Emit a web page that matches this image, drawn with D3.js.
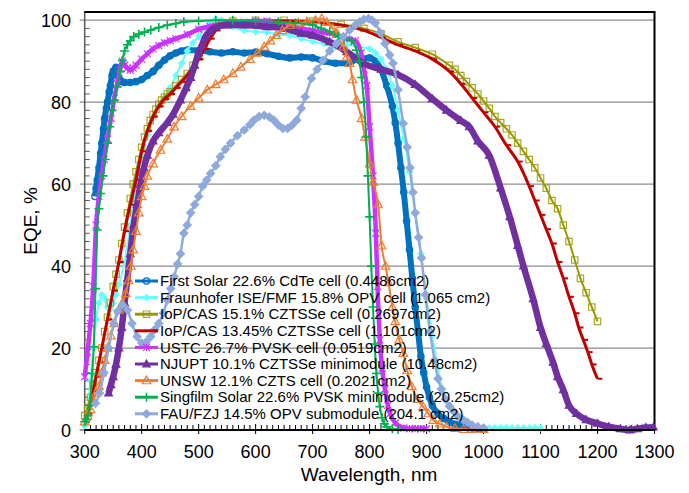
<!DOCTYPE html>
<html><head><meta charset="utf-8">
<script src="https://cdn.jsdelivr.net/npm/d3@7"></script>
<style>body{margin:0;background:#fff}svg{display:block}text{font-family:Arial,"Liberation Sans",sans-serif;fill:#000}</style>
</head><body><svg id="c" width="689" height="493"></svg>
<script>
// ---- data ----
const seriesNames = [
  "First Solar 22.6% CdTe cell (0.4486cm2)",
  "Fraunhofer ISE/FMF 15.8% OPV cell (1.065 cm2)",
  "IoP/CAS 15.1% CZTSSe cell (0.2697cm2)",
  "IoP/CAS 13.45% CZTSSe cell (1.101cm2)",
  "USTC 26.7% PVSK cell (0.0519cm2)",
  "NJUPT 10.1% CZTSSe minimodule (10.48cm2)",
  "UNSW 12.1% CZTS cell (0.2021cm2)",
  "Singfilm Solar 22.6% PVSK minimodule (20.25cm2)",
  "FAU/FZJ 14.5% OPV submodule (204.1 cm2)"
];
const xTicks = [300,400,500,600,700,800,900,1000,1100,1200,1300];
const yTicks = [0,20,40,60,80,100];

const firstSolar = [[318,57],[320,59],[322,61],[325,64],[328,67.5],[330,70],[333,73.5],[335,76],[338,78.5],[340,80],[343,82.5],[345,84],[348,86.5],[350,87.5],[355,88.5],[360,86],[365,85],[370,84.8],[380,84.8],[390,85],[400,85.5],[410,86.5],[420,87.5],[430,89],[440,90.3],[450,91.3],[460,92],[470,92.5],[480,92.7],[500,92.6],[520,92.3],[540,92],[560,92.3],[580,92],[600,92.2],[620,91.8],[640,91.2],[660,90.8],[680,91],[700,90.8],[720,90],[740,89.5],[760,89.5],[780,90.5],[800,90.8],[810,90],[820,88],[830,84],[840,79],[845,75],[850,70],[855,64],[860,58],[865,51],[870,44],[875,37],[880,30],[885,24],[890,18],[895,14],[900,10.5],[905,8],[910,6],[920,4],[930,2.8],[940,2],[950,1.4],[960,1],[970,0.7],[980,0.5],[990,0.3],[1000,0.2]];
const fraunhofer = [[300,1],[305,5],[310,12],[315,20],[320,27],[325,31],[330,33],[335,32],[340,30],[345,29.5],[350,31],[355,33],[360,35.5],[370,41],[380,50],[390,60],[400,67],[410,72],[420,76],[430,79],[440,81],[450,83.5],[460,86.5],[470,89.5],[480,92.5],[490,94.5],[500,96],[510,98],[520,99.5],[530,100.3],[540,100],[550,99.3],[560,98.4],[580,97.5],[600,97.2],[620,97],[640,96.5],[660,96.3],[680,95.5],[700,94.8],[720,94.3],[740,93.5],[760,94],[780,93.5],[800,93],[810,92],[820,90.5],[830,88],[840,84],[850,78],[860,71],[870,63],[880,53],[890,43],[900,32],[910,23],[920,15],[930,9],[940,6],[950,4],[960,2.8],[970,2],[980,1.2],[990,0.8],[1000,0.5],[1010,0.5],[1020,0.5],[1030,0.5],[1040,0.5],[1050,0.5],[1060,0.5],[1070,0.5],[1080,0.5],[1090,0.5],[1100,0.5]];
const iopCas151 = [[300,3.5],[305,5.5],[310,8],[315,11],[320,14],[325,17],[330,20],[335,24],[340,27.5],[345,31],[350,35],[355,38],[360,41.5],[365,45.5],[370,49.5],[375,53],[380,56.5],[385,60],[390,63],[395,66],[400,69],[405,71.5],[410,73.5],[415,75.5],[420,77],[425,78.3],[430,79.5],[435,80.5],[440,81.2],[445,82],[450,82.5],[460,84],[470,85.5],[480,87],[490,89],[500,91],[510,94],[520,97],[530,98.5],[540,99.3],[560,99.8],[600,100],[650,100],[700,99.8],[750,99],[790,98],[820,96.7],[850,94.7],[880,93.3],[910,91.7],[940,89],[950,88],[960,86.5],[970,85],[980,83.5],[990,82],[1000,80.3],[1010,78.5],[1020,76.5],[1030,75],[1040,73.5],[1050,72],[1060,70],[1070,68],[1080,66],[1090,64],[1100,61.5],[1110,59],[1120,56],[1130,54],[1140,50],[1150,46],[1160,41.5],[1170,37],[1180,33.5],[1190,30],[1200,26.5]];
const iopCas1345 = [[300,2],[305,4],[310,6.5],[315,9.5],[320,13],[325,16.5],[330,20],[340,27],[350,34],[360,41],[370,48.5],[380,55],[390,61],[400,68],[410,73],[420,76.5],[430,79],[440,80.8],[450,82],[460,83.5],[470,85],[480,86.5],[490,88.5],[500,90.5],[510,93],[520,95.5],[530,97.5],[540,98.5],[560,99.3],[600,99.8],[650,99.8],[700,99.5],[750,98.8],[790,97.5],[820,95.8],[850,94],[880,92.5],[910,90.5],[940,87.5],[960,84.5],[980,81],[1000,77.5],[1020,74],[1040,69.5],[1060,65.5],[1080,59.5],[1090,56],[1100,52.5],[1110,49],[1120,45.5],[1130,41],[1140,37],[1150,32.5],[1160,28.5],[1167,25],[1175,22],[1183,19],[1190,16],[1200,12.5]];
const ustc = [[300,13],[305,19],[310,26],[315,35],[320,50],[325,57],[330,62],[334,66],[340,71],[346,76],[352,81],[357,84.5],[362,88],[366,90],[370,89],[375,88.3],[380,87.8],[385,88.3],[390,89],[400,90.5],[410,91.8],[420,93],[430,93.8],[440,94.5],[450,95],[460,95.5],[480,96.5],[500,97.8],[520,98.5],[540,99],[560,99.3],[580,99.5],[600,99.8],[620,99.8],[640,99],[660,98.5],[680,98],[700,97.5],[720,97],[740,96.5],[760,95.5],[775,95],[785,92],[790,88],[795,84],[800,74],[806,62],[811,48],[814,35],[818,22],[822,15],[827,10],[832,6],[836,4],[845,1.7],[860,0.5],[870,0.3],[880,0.3],[890,0.3],[900,0.3]];
const njupt = [[342,9],[346,11],[350,13],[355,16],[360,20],[365,25],[370,31],[375,37],[380,43],[386,50],[392,55],[398,60],[404,64],[410,67],[420,70.5],[430,72.5],[445,75],[455,77],[468,80.5],[478,83.5],[486,86],[493,89],[500,92],[506,94],[512,96],[520,97.3],[530,98.3],[550,98.8],[580,98.8],[620,98.4],[650,98],[680,96.8],[700,96.3],[730,94.7],[760,92.3],[790,89.4],[820,88],[850,86.7],[880,84.3],[910,80.8],[935,78],[960,75.5],[975,74],[990,70.5],[1010,67],[1030,59],[1046,52],[1060,45],[1070,40],[1087,32],[1100,25],[1110,21],[1122,16.5],[1130,13],[1140,9.8],[1150,6],[1163,4],[1180,2.5],[1200,1.6],[1220,0.8],[1240,0.3],[1257,0],[1270,0.3],[1285,0.6],[1298,0.7]];
const unsw = [[300,2],[305,3.5],[310,5],[315,7],[320,9],[325,10.6],[330,14],[335,17],[340,20],[346,23],[352,26],[360,29.3],[366,31],[372,33.3],[377,36.5],[381,40],[385,44],[390,48.5],[395,53],[400,57],[405,59.5],[410,62],[420,65],[433,68.3],[445,71],[457,74],[470,76.5],[486,79],[500,81],[515,83],[530,84.3],[544,85.5],[560,87],[574,88.6],[590,90.5],[603,92],[615,93.5],[626,95],[636,96.3],[647,97.5],[660,98.8],[675,99.3],[690,99.6],[705,100],[716,100.4],[725,99.5],[735,98],[742,97],[748,95],[754,93.5],[760,91],[765,89.5],[770,85.5],[777,80.5],[786,76],[792,71.5],[800,65],[806,60.5],[815,55],[821,45],[828,40],[833,36],[840,30],[845,26.5],[852,22],[859,18.7],[866,14.5],[874,10.6],[884,7.5],[894,5.7],[903,4],[912,2.4],[923,1.5],[935,0.8],[950,0.4],[965,0.2],[980,0.2],[1000,0.2]];
const singfilm = [[300,2],[303,2.5],[306,3.5],[309,6],[313,13.8],[316,20.3],[319,34.5],[322,48.8],[325,54],[328,57.7],[332,62],[336,66],[340,70],[344,74],[348,78],[352,80.5],[357,83.7],[362,87.5],[366,90.2],[370,92.5],[375,94],[380,95],[386,96],[395,96.6],[405,97.1],[416,97.6],[430,98.2],[445,98.8],[460,99.2],[474,99.6],[500,99.8],[530,100],[560,100],[600,99.8],[640,99.6],[670,99.3],[700,98.8],[715,98],[730,97.2],[745,96],[755,95.5],[768,95],[777,92.7],[782,90],[786,86],[790,80],[794,71.5],[797,62],[800,52],[803,40],[806,30],[809,21],[812,13.8],[815,9],[818,5.7],[822,3],[826,1.5],[830,0.8],[840,0.3],[850,0.2]];
const fauFzj = [[319,6.5],[326,9],[334,14],[342,20],[351,26],[358,29],[366,30.5],[375,29.3],[383,26],[392,22.8],[400,21.2],[408,21.5],[416,22.8],[423,24.5],[430,26],[438,28.5],[445,31.7],[451,34.5],[457,37.4],[463,40.5],[468,43],[474,48],[480,50],[486,53],[493,55],[500,57],[507,59.5],[514,61],[521,62.6],[530,64.5],[538,66.7],[547,68.5],[556,70],[568,71.8],[580,73.2],[590,74.5],[597,75.6],[606,76.5],[615,76.8],[624,76.4],[632,75.6],[640,74.4],[648,73.6],[656,73.6],[664,74.4],[672,75.6],[680,78.5],[687,81.3],[698,85.8],[708,88],[718,90.2],[730,92.5],[742,94.3],[754,96],[765,97.6],[775,98.8],[783,99.6],[790,100.2],[798,100.4],[804,100],[810,99.3],[818,97],[827,94.3],[835,91.5],[841,89.5],[850,83],[859,74.8],[866,69],[871,64],[876,58],[880,53],[886,47],[891,42],[898,33],[906,24],[914,17],[920,12.5],[926,10],[933,7.5],[940,5.8],[948,4.5],[956,3.2],[964,2.5],[972,1.8],[980,1.2],[990,0.8],[1000,0.5]];

const seriesData = [firstSolar, fraunhofer, iopCas151, iopCas1345, ustc, njupt, unsw, singfilm, fauFzj];
const seriesColors = ["#0070C0","#66FFFF","#999900","#C00000","#CC33FF","#7030A0","#ED7D31","#00B050","#8EA9DB"];
const seriesMarkers = ["circle","smalldiamond","square","dash","asterisk","triangleFilled","triangleOpen","plus","diamond"];
const lineWidths = [6,2,2,3,4.5,6.5,2,2,2.5];

// ---- layout ----
const svg = d3.select("#c");
const x = d3.scaleLinear().domain([300,1300]).range([84.7,654.5]);
const y = d3.scaleLinear().domain([0,102]).range([430,12]);

// gridlines
svg.append("g").selectAll("line").data(yTicks.filter(d=>d>0)).join("line")
  .attr("x1",x(300)-5).attr("x2",x(1300)).attr("y1",d=>y(d)).attr("y2",d=>y(d))
  .attr("stroke","#8c8c8c").attr("stroke-width",1.2);

// minor ticks
const yMinor = d3.range(2,102,2).filter(d=>d%20!==0);
svg.append("g").selectAll("line").data(yMinor).join("line")
  .attr("x1",x(300)).attr("x2",x(300)+5).attr("y1",d=>y(d)).attr("y2",d=>y(d))
  .attr("stroke","#595959").attr("stroke-width",1);
const xMinor = d3.range(310,1300,10).filter(d=>d%100!==0);
svg.append("g").selectAll("line").data(xMinor).join("line")
  .attr("x1",d=>x(d)).attr("x2",d=>x(d)).attr("y1",y(0)).attr("y2",y(0)-5)
  .attr("stroke","#000").attr("stroke-width",1);
svg.append("g").selectAll("line").data(xTicks).join("line")
  .attr("x1",d=>x(d)).attr("x2",d=>x(d)).attr("y1",y(0)+4).attr("y2",y(0)-6)
  .attr("stroke","#000").attr("stroke-width",1);

// frame
svg.append("line").attr("x1",x(300)).attr("x2",x(300)).attr("y1",y(102)).attr("y2",y(0)).attr("stroke","#595959").attr("stroke-width",1.5);
svg.append("line").attr("x1",x(300)-0.5).attr("x2",x(1300)+1).attr("y1",y(102)).attr("y2",y(102)).attr("stroke","#000").attr("stroke-width",2);
svg.append("line").attr("x1",x(1300)).attr("x2",x(1300)).attr("y1",y(102)).attr("y2",y(0)).attr("stroke","#000").attr("stroke-width",2);

// markers
function markerPath(type, s){
  const p = d3.path();
  switch(type){
    case "circle": p.moveTo(s,0); p.arc(0,0,s,0,2*Math.PI); break;
    case "square": p.rect(-s,-s,2*s,2*s); break;
    case "smalldiamond":
    case "diamond": p.moveTo(0,-s); p.lineTo(s,0); p.lineTo(0,s); p.lineTo(-s,0); p.closePath(); break;
    case "triangleFilled":
    case "triangleOpen": p.moveTo(0,-s); p.lineTo(s*0.95,s*0.7); p.lineTo(-s*0.95,s*0.7); p.closePath(); break;
    case "plus": p.moveTo(-s,0); p.lineTo(s,0); p.moveTo(0,-s); p.lineTo(0,s); break;
    case "asterisk": p.moveTo(-s,-s); p.lineTo(s,s); p.moveTo(-s,s); p.lineTo(s,-s); p.moveTo(0,-s); p.lineTo(0,s); break;
    case "dash": p.moveTo(0,0); p.lineTo(s*1.6,0); break;
  }
  return p.toString();
}
const markerSize = {circle:3.2, square:3.2, smalldiamond:3, diamond:4, triangleFilled:4, triangleOpen:4.5, plus:4.5, asterisk:3.5, dash:3};
function styleMarker(sel, type, color){
  const filled = ["smalldiamond","diamond","triangleFilled"].includes(type);
  sel.attr("d",markerPath(type, markerSize[type]))
    .attr("fill", filled ? color : "none")
    .attr("stroke", color)
    .attr("stroke-width", type==="plus"?1.6:(type==="dash"?2:1.2))
    .attr("stroke-opacity", type==="square"?0.85:1);
}

const line = d3.line().x(d=>x(d[0])).y(d=>y(d[1])).curve(d3.curveMonotoneX);
seriesData.forEach((data,i)=>{
  const g = svg.append("g");
  g.append("path").attr("d",line(data)).attr("fill","none")
    .attr("stroke",seriesColors[i]).attr("stroke-width",lineWidths[i]).attr("stroke-linejoin","round");
  g.selectAll("path.m").data(data).join("path").attr("class","m")
    .attr("transform",d=>`translate(${x(d[0])},${y(d[1])})`)
    .call(s=>styleMarker(s, seriesMarkers[i], seriesColors[i]));
});

// bottom axis line
svg.append("line").attr("x1",x(300)-0.5).attr("x2",x(1300)+1).attr("y1",y(0)).attr("y2",y(0)).attr("stroke","#000").attr("stroke-width",2);
svg.append("line").attr("x1",x(300)-5).attr("x2",x(300)).attr("y1",y(0)).attr("y2",y(0)).attr("stroke","#595959").attr("stroke-width",1.2);

// tick labels
svg.append("g").selectAll("text").data(xTicks).join("text")
  .attr("x",d=>x(d)).attr("y",458).attr("text-anchor","middle").attr("font-size",18).text(d=>d);
svg.append("g").selectAll("text").data(yTicks).join("text")
  .attr("x",71).attr("y",d=>y(d)+6.5).attr("text-anchor","end").attr("font-size",18).text(d=>d);

// axis titles
svg.append("text").attr("x",369).attr("y",481).attr("text-anchor","middle").attr("font-size",19).text("Wavelength, nm");
svg.append("text").attr("transform","translate(37,221) rotate(-90)").attr("text-anchor","middle").attr("font-size",19).text("EQE, %");

// legend
const lg = svg.append("g");
seriesNames.forEach((name,i)=>{
  const cy = 281 + i*16.6;
  lg.append("line").attr("x1",135).attr("x2",158).attr("y1",cy).attr("y2",cy)
    .attr("stroke",seriesColors[i]).attr("stroke-width",3);
  lg.append("path").attr("transform",`translate(146.5,${cy})`)
    .call(s=>styleMarker(s, seriesMarkers[i], seriesColors[i]));
  lg.append("text").attr("x",160).attr("y",cy+5.2).attr("font-size",15).text(name);
});
</script></body></html>
